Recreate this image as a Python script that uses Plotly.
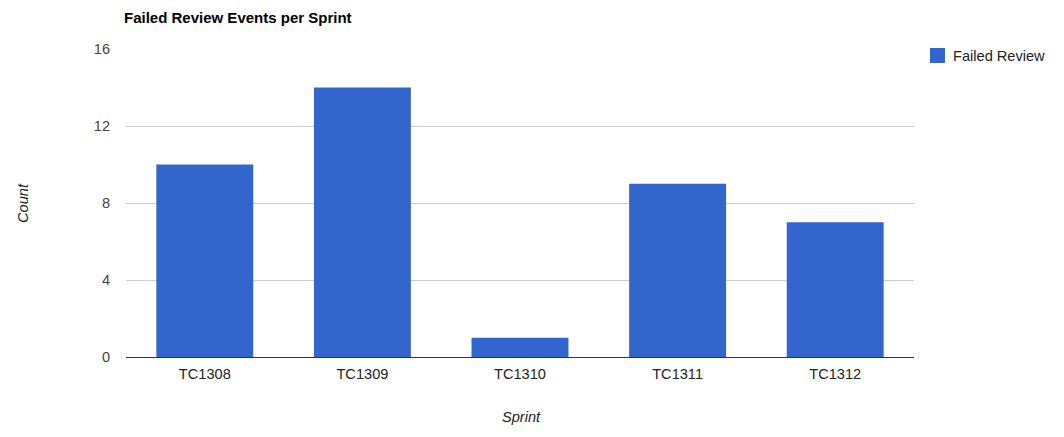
import plotly.graph_objects as go

sprints = ["TC1308", "TC1309", "TC1310", "TC1311", "TC1312"]
failed_review = [10, 14, 1, 9, 7]
y_ticks = [0, 4, 8, 12, 16]

FONT = "Liberation Sans, Arial, sans-serif"
FS = 14.6

# page body has an 8px margin; figure sized to fit the window
W, H = 1056, 429
L, T = 118, 41
PW, PH = 788, 308
R = W - L - PW
B = H - T - PH

fig = go.Figure()
fig.add_trace(go.Bar(
    x=sprints, y=failed_review, name="Failed Review",
    marker=dict(color="#3366CC", line=dict(width=0)),
    showlegend=False,
))

fig.update_layout(
    width=W, height=H,
    margin=dict(l=L, r=R, t=T, b=B, pad=0),
    paper_bgcolor="white", plot_bgcolor="white",
    font=dict(family=FONT, size=FS, color="#222222"),
    bargap=0.385,
    showlegend=False,
    title=dict(text="<b>Failed Review Events per Sprint</b>", x=116/W, xanchor="left",
               y=1-9.5/H, yanchor="middle", font=dict(family=FONT, size=15, color="#000000")),
    xaxis=dict(
        showgrid=False, showline=True, linecolor="#333333", linewidth=1,
        ticks="", tickfont=dict(size=FS, color="#222222"), ticklabelstandoff=3,
        range=[-0.5, 4.5], zeroline=False,
    ),
    yaxis=dict(
        range=[0, 16], tickvals=y_ticks, ticktext=[str(v) for v in y_ticks],
        showgrid=True, gridcolor="#CCCCCC", gridwidth=1, zeroline=False,
        showline=False, ticks="", ticklabelstandoff=15,
        tickfont=dict(size=FS, color="#444444"),
    ),
)

# axis titles
fig.add_annotation(xref="paper", yref="paper", x=(23-126)/PW, y=0.5, text="<i>Count</i>",
                   textangle=-90, showarrow=False, xanchor="center", yanchor="middle",
                   font=dict(family=FONT, size=FS, color="#222222"))
fig.add_annotation(xref="paper", yref="paper", x=(521-126)/PW, y=(357-417)/PH, text="<i>Sprint</i>",
                   showarrow=False, xanchor="center", yanchor="middle",
                   font=dict(family=FONT, size=FS, color="#222222"))

# legend drawn as shape+annotation in paper space
fig.add_shape(type="rect", xref="paper", yref="paper",
              x0=(930-126)/PW, x1=(945-126)/PW,
              y0=(357-63)/PH, y1=(357-48)/PH,
              fillcolor="#3366CC", line=dict(width=0))
fig.add_annotation(xref="paper", yref="paper", x=(951-126)/PW, y=(357-56)/PH,
                   text="Failed Review", showarrow=False, xanchor="left", yanchor="middle",
                   font=dict(family=FONT, size=FS, color="#222222"))

fig.write_html("out.html")
